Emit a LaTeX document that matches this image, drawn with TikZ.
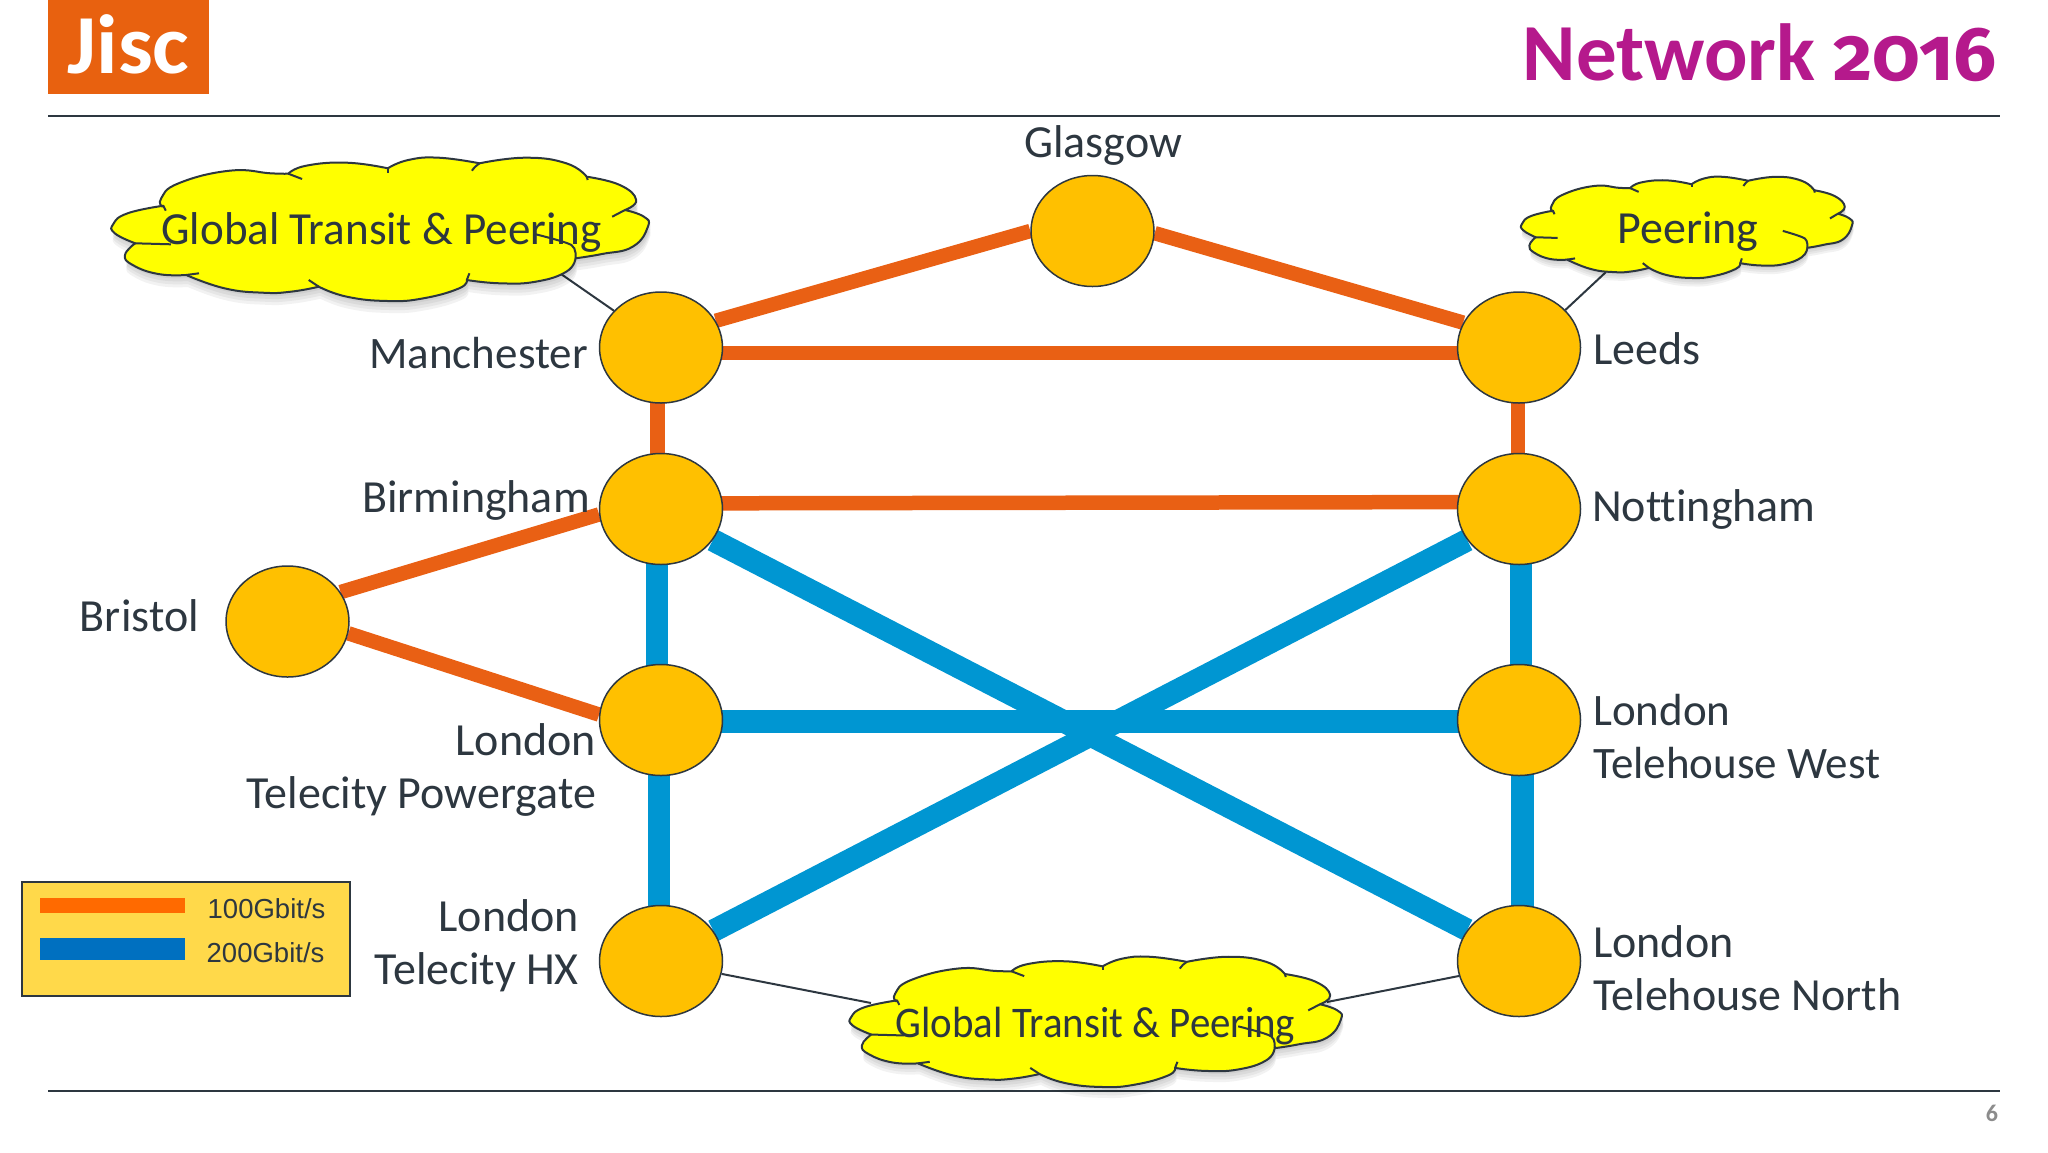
\documentclass[tikz,border=0pt]{standalone}
\usepackage{fontspec}
\setmainfont[Ligatures=NoCommon]{Carlito}
\newfontfamily\legendfont{Liberation Sans}
\newfontfamily\oldnumfont[Numbers=OldStyle]{Fira Sans}
\usetikzlibrary{shapes.geometric}
\pgfdeclarelayer{background}
\pgfsetlayers{background,main}
\definecolor{jiscorange}{RGB}{232,97,15}
\definecolor{jiscpurple}{RGB}{181,25,140}
\definecolor{linkorange}{RGB}{233,96,20}
\definecolor{linkblue}{RGB}{0,150,210}
\definecolor{sitegold}{RGB}{255,192,0}
\definecolor{inkgrey}{RGB}{45,55,64}
\definecolor{cloudyellow}{RGB}{255,255,0}
\definecolor{legendgold}{RGB}{255,217,74}
\definecolor{keyorange}{RGB}{255,106,0}
\definecolor{keyblue}{RGB}{0,112,192}
\tikzset{
  site/.style={ellipse,draw=inkgrey,line width=1.5pt,fill=sitegold,minimum width=123pt,minimum height=111pt,inner sep=0pt},
  sitename/.style={text=inkgrey,font=\fontsize{46}{53}\selectfont,inner sep=0pt},
  link100/.style={draw=linkorange,line width=14.5pt},
  link200/.style={draw=linkblue,line width=22.5pt},
  thinlink/.style={draw=inkgrey,line width=2pt},
  puffline/.style={smooth,tension=0.8},
  legendname/.style={text=inkgrey,font=\legendfont\fontsize{27.5}{30}\selectfont,inner sep=0pt},
}
% outline of a cloud, 535 wide and 143 high round its middle
\newcommand{\cloudoutline}{
  plot[puffline] coordinates {(-218.3,-22.8) (-219.3,-31.2) (-201.9,-46.2) (-150.9,-58.8) (-110.1,-56.2) (-92.2,-55.8)}
  -- plot[puffline] coordinates {(-92.2,-55.8) (-74.4,-63.8) (-33.6,-66.8) (7.3,-61.2)}
  -- plot[puffline] coordinates {(7.3,-61.2) (27.7,-69.5) (58.3,-71.8) (99.1,-66.2)}
  -- plot[puffline] coordinates {(99.1,-66.2) (145,-71.8) (185.8,-66.2) (206.2,-52.8)}
  -- plot[puffline] coordinates {(206.2,-52.8) (239.4,-44.5) (255.7,-29.5) (244.5,-19.5)}
  -- plot[puffline] coordinates {(244.5,-19.5) (263.4,-12.8) (267.4,-2.8) (252.2,17.2) (221.5,24.5) (195,28.8)}
  -- plot[puffline] coordinates {(195,28.8) (185.8,42.2) (155.2,52.2) (119.5,53.8) (86.3,50.5)}
  -- plot[puffline] coordinates {(86.3,50.5) (78.7,58.8) (43,68.8) (7.3,71.5) (-33.6,67.2) (-61.6,57.2)}
  -- plot[puffline] coordinates {(-61.6,57.2) (-89.7,62.2) (-117.7,63.2) (-156,58.8) (-194.3,45.5)}
  -- plot[puffline] coordinates {(-194.3,45.5) (-222.3,44.5) (-247.8,35.5) (-255.5,25.5) (-245.3,13.8)}
  -- plot[puffline] coordinates {(-245.3,13.8) (-265.7,3.8) (-267.2,-5.5) (-252.9,-16.2) (-217.2,-23.8)}
  -- cycle
}
\newcommand{\cloudpuff}[4]{
  \begin{scope}[shift={(#1,#2)},xscale=#3,yscale=#4]
    \foreach \shadowstep in {3,6,9,12}
      \fill[black,opacity=0.05,shift={(1.5,\shadowstep)}] \cloudoutline;
    \filldraw[draw=inkgrey,line width=2pt,fill=cloudyellow,line join=round] \cloudoutline;
    \draw[inkgrey,line width=2pt] (-92.2,-55.8) -- (-78.4,-50.5);
    \draw[inkgrey,line width=2pt] (7.3,-61.2) -- (7.3,-56.8);
    \draw[inkgrey,line width=2pt] (99.1,-66.2) to[bend right=10] (91.4,-58.8);
    \draw[inkgrey,line width=2pt] (206.2,-52.8) -- (207.2,-49.5);
    \draw[inkgrey,line width=2pt] (244.5,-19.5) -- (231.7,-12.8);
    \draw[inkgrey,line width=2pt] plot[smooth] coordinates {(195,28.8) (190.9,15.5) (155.2,4.8)};
    \draw[inkgrey,line width=2pt] (86.3,50.5) -- (88.9,43.8);
    \draw[inkgrey,line width=2pt] (-194.3,45.5) -- (-181.5,43.8);
    \draw[inkgrey,line width=2pt] (-61.6,57.2) -- (-71.8,50.5);
    \draw[inkgrey,line width=2pt] (-245.3,13.8) -- (-209.6,14.8);
    \draw[inkgrey,line width=2pt] (-217.2,-23.8) -- (-214.7,-18.8);
  \end{scope}
}

\begin{document}
\begin{tikzpicture}[x=1pt,y=-1pt]
  \useasboundingbox (0,0) rectangle (2048,1152);
  % header and footer
  \node [fill=jiscorange,minimum width=161pt,minimum height=94pt,inner sep=0pt,anchor=north west] (logobox) at (48,0) {};
  \node [text=white,font=\bfseries\fontsize{84}{84}\selectfont,inner sep=0pt,anchor=base,xscale=1.04,transform shape] (logotext) at (128.5,73) {Jisc};
  \node [text=jiscpurple,font=\bfseries\fontsize{81}{81}\selectfont,inner sep=0pt,anchor=base east] (title) at (1997,80) {Network {\oldnumfont\fontsize{76}{76}\selectfont 2016}};
  \coordinate (rulea) at (48,116);
  \coordinate (ruleb) at (2000,116);
  \coordinate (rulec) at (48,1091);
  \coordinate (ruled) at (2000,1091);
  \draw [inkgrey,line width=1.5pt] (rulea)--(ruleb);
  \draw [inkgrey,line width=1.5pt] (rulec)--(ruled);
  \node [text=black!45,font=\bfseries\fontsize{24}{24}\selectfont,inner sep=0pt] (pageno) at (1992,1113) {6};
  % sites
  \node [site] (gla) at (1092.5,231) {};
  \node [site] (man) at (661,347.5) {};
  \node [site] (lee) at (1519,347.5) {};
  \node [site] (bir) at (661,509) {};
  \node [site] (not) at (1519,509) {};
  \node [site] (bri) at (287.5,621.5) {};
  \node [site] (ltp) at (661,720) {};
  \node [site] (ltw) at (1519,720) {};
  \node [site] (lhx) at (661,961) {};
  \node [site] (ltn) at (1519,961) {};
  % clouds
  \cloudpuff{380.5}{229.5}{1}{1}
  \cloudpuff{1687}{227.5}{0.617}{0.706}
  \cloudpuff{1096}{1022}{0.916}{0.909}
  \node [sitename,anchor=base,xscale=0.98,transform shape] (cloudtop) at (381.5,244) {Global Transit \& Peering};
  \node [sitename,anchor=base] (cloudpeer) at (1688,243) {Peering};
  \node [sitename,anchor=base,xscale=0.89,yscale=0.95,transform shape] (cloudlow) at (1095.5,1037) {Global Transit \& Peering};
  \coordinate (topedge) at (561,274);
  \coordinate (peeredge) at (1606,272);
  \coordinate (lowedgea) at (871,1003);
  \coordinate (lowedgeb) at (1327,1002);
  % links
  \begin{pgfonlayer}{background}
    \draw [link100] (man.26)--(gla.180);
    \draw [link100] (gla.-2)--(lee.156);
    \draw [link100] ([yshift=-5.5pt]man.center)--([yshift=-5.5pt]lee.center);
    \draw [link100] ([xshift=-3.5pt]man.center)--([xshift=-3.5pt]bir.center);
    \draw [link100] ([xshift=-1pt]lee.center)--([xshift=-1pt]not.center);
    \draw [link100] ([yshift=5.6pt]bir.center)--([yshift=7pt]not.center);
    \draw [link100] (bri.29)--(bir.185);
    \draw [link100] (bri.-11)--(ltp.175);
    \draw [link200] ([xshift=-4pt]bir.center)--([xshift=-4pt]ltp.center);
    \draw [link200] ([xshift=-2pt]ltp.center)--([xshift=-2pt]lhx.center);
    \draw [link200] ([xshift=2pt]not.center)--([xshift=2pt]ltw.center);
    \draw [link200] ([xshift=3.5pt]ltw.center)--([xshift=3.5pt]ltn.center);
    \draw [link200] ([yshift=-1.3pt]ltp.center)--([yshift=-1.3pt]ltw.center);
    \draw [link200] (bir.-31)--(ltn.149);
    \draw [link200] (not.211)--(lhx.30);
    \draw [thinlink] (man.142)--(topedge);
    \draw [thinlink] (lee.39)--(peeredge);
    \draw [thinlink] (lhx.-12)--(lowedgea);
    \draw [thinlink] (ltn.194)--(lowedgeb);
  \end{pgfonlayer}
  % site names
  \node [sitename,anchor=base] (glaname) at (1103,157) {Glasgow};
  \node [sitename,anchor=base east,font=\fontsize{45}{53}\selectfont] (manname) at (588,368) {Manchester};
  \node [sitename,anchor=base west] (leename) at (1593,364) {Leeds};
  \node [sitename,anchor=base east] (birname) at (590,512) {Birmingham};
  \node [sitename,anchor=base west] (notname) at (1592,521) {Nottingham};
  \node [sitename,anchor=base east] (briname) at (199,631) {Bristol};
  \node [sitename,anchor=base east,align=right] (ltpname) at (596,808.5) {London\\Telecity Powergate};
  \node [sitename,anchor=base east,align=right] (lhxname) at (579,984) {London\\Telecity HX};
  \node [sitename,anchor=base west,align=left,font=\fontsize{45}{53}\selectfont] (ltwname) at (1593,778.5) {London\\Telehouse West};
  \node [sitename,anchor=base west,align=left] (ltnname) at (1593,1010) {London\\Telehouse North};
  % legend
  \node [draw=inkgrey,line width=2pt,fill=legendgold,minimum width=328pt,minimum height=114pt,inner sep=0pt,anchor=north west] (legendbox) at (21,881) {};
  \node [fill=keyorange,minimum width=145pt,minimum height=15pt,inner sep=0pt,anchor=north west] (legenda) at (40,898) {};
  \node [fill=keyblue,minimum width=145pt,minimum height=22pt,inner sep=0pt,anchor=north west] (legendb) at (40,938) {};
  \node [legendname,anchor=west] (legendatext) at (207.5,909) {100Gbit/s};
  \node [legendname,anchor=west] (legendbtext) at (206.5,953) {200Gbit/s};
\end{tikzpicture}
\end{document}
